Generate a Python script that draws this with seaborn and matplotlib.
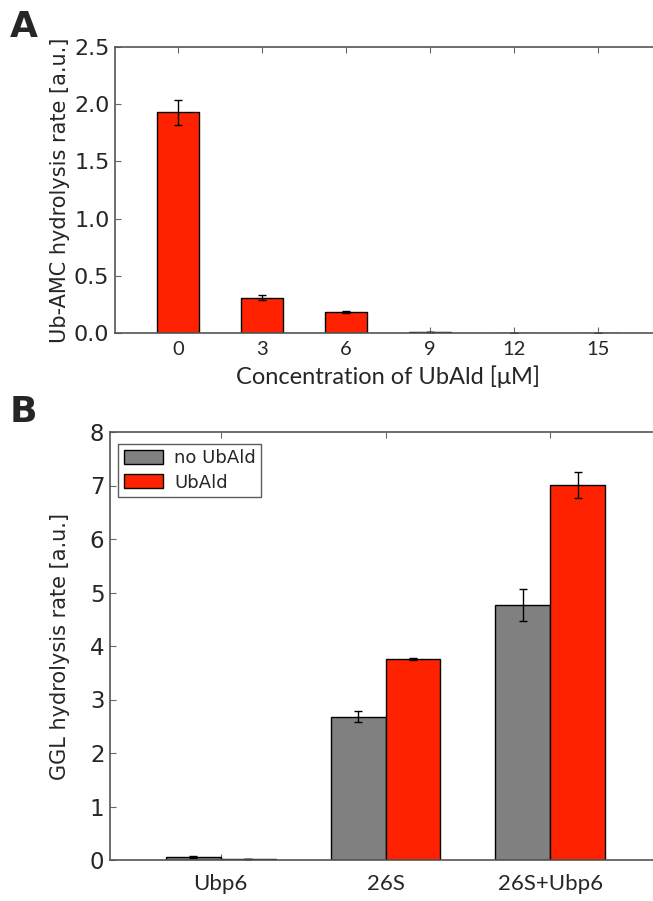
import matplotlib
matplotlib.use("Agg")
import matplotlib.pyplot as plt
import seaborn as sns
import pandas as pd
import numpy as np

# ---- data panel A ----
conc_labels = ["0", "3", "6", "9", "12", "15"]
amc_rate = [1.93, 0.31, 0.185, 0.005, 0.003, 0.003]
amc_err = [0.11, 0.025, 0.01, 0.0, 0.0, 0.0]

# ---- data panel B ----
groups = ["Ubp6", "26S", "26S+Ubp6"]
conditions = ["no UbAld", "UbAld"]
ggl_no = [0.05, 2.68, 4.77]
ggl_no_err = [0.02, 0.10, 0.30]
ggl_ub = [0.01, 3.75, 7.01]
ggl_ub_err = [0.0, 0.02, 0.24]

RED = "#ff2200"
GREY = "#808080"

sns.set_style("white")
plt.rcParams['font.family'] = ['DejaVu Sans']

fig = plt.figure(figsize=(6.53, 9.01), dpi=100)
W, H = 653, 901

def ax_at(l, t, r, b):
    return fig.add_axes([l / W, 1 - b / H, (r - l) / W, (b - t) / H])

# ---------------- Panel A ----------------
axA = ax_at(115, 47, 661, 333)
dfA = pd.DataFrame({"conc": conc_labels, "rate": amc_rate})
sns.barplot(data=dfA, x="conc", y="rate", order=conc_labels, color=RED,
            width=0.5, edgecolor="black", linewidth=1, errorbar=None,
            saturation=1, ax=axA)
xsA = [p.get_x() + p.get_width() / 2 for p in axA.patches]
axA.errorbar(xsA, amc_rate, yerr=amc_err, fmt="none", ecolor="black",
             elinewidth=1, capsize=3, capthick=1)
axA.set_xlim(-0.75, 5.75)
axA.set_ylim(0, 2.5)
axA.set_yticks([0, 0.5, 1.0, 1.5, 2.0, 2.5])
axA.set_yticklabels(["0.0", "0.5", "1.0", "1.5", "2.0", "2.5"], fontsize=16)
axA.set_xticks(range(len(conc_labels)))
axA.set_xticklabels(conc_labels, fontsize=14.5, family="Lato")
axA.set_xlabel("Concentration of UbAld [μM]", fontsize=17, family="Lato",
               labelpad=5)
axA.set_ylabel("Ub-AMC hydrolysis rate [a.u.]", fontsize=15, labelpad=3)

# ---------------- Panel B ----------------
axB = ax_at(110, 432, 661, 860)
dfB = pd.DataFrame({
    "group": groups * 2,
    "cond": [conditions[0]] * 3 + [conditions[1]] * 3,
    "rate": ggl_no + ggl_ub,
})
sns.barplot(data=dfB, x="group", y="rate", hue="cond", order=groups,
            hue_order=conditions, palette=[GREY, RED], width=2 / 3,
            edgecolor="black", linewidth=1, errorbar=None, saturation=1,
            ax=axB)
bars = list(axB.patches)[:6]
xsB = [p.get_x() + p.get_width() / 2 for p in bars]
axB.errorbar(xsB, ggl_no + ggl_ub, yerr=ggl_no_err + ggl_ub_err, fmt="none",
             ecolor="black", elinewidth=1, capsize=3, capthick=1)
axB.set_xlim(-0.67, 2.67)
axB.set_ylim(0, 8)
axB.set_yticks(range(0, 9))
axB.set_yticklabels([str(i) for i in range(9)], fontsize=16.5)
axB.set_xticks(range(3))
axB.set_xticklabels(groups, fontsize=16, family="Lato")
axB.set_xlabel("")
axB.set_ylabel("GGL hydrolysis rate [a.u.]", fontsize=15, labelpad=14)
leg = axB.legend(loc="upper left", bbox_to_anchor=(0.005, 0.985), fontsize=13,
                 frameon=True, fancybox=False, handlelength=2.2,
                 handleheight=0.8, borderpad=0.3, labelspacing=0.35,
                 handletextpad=0.6, borderaxespad=0.3)
leg.get_frame().set_edgecolor("#333333")
leg.get_frame().set_linewidth(1)
leg.set_title(None)

for ax in (axA, axB):
    for s in ax.spines.values():
        s.set_color("#555555")
        s.set_linewidth(1.2)
        s.set_visible(True)
    ax.tick_params(direction="in", length=4, width=0.8, color="#666666",
                   top=True, right=True, left=True, bottom=True, pad=4)
axA.tick_params(axis="x", pad=6)
axB.tick_params(axis="x", pad=10)

fig.text(10 / W, 1 - 27 / H, "A", fontsize=26, fontweight="bold",
         va="center", ha="left")
fig.text(10 / W, 1 - 412 / H, "B", fontsize=26, fontweight="bold",
         va="center", ha="left")

fig.savefig("out.png", dpi=100)
